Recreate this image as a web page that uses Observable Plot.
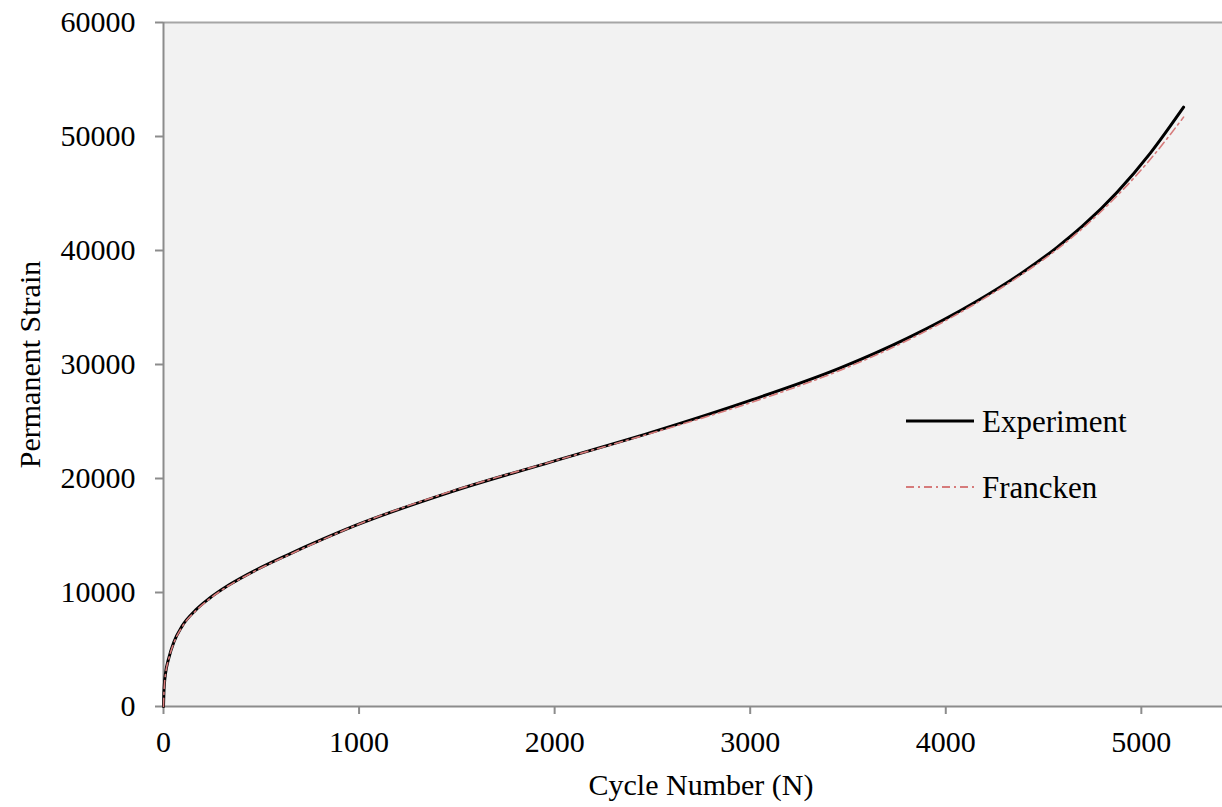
<!DOCTYPE html>
<html>
<head>
<meta charset="utf-8">
<script src="https://cdn.jsdelivr.net/npm/d3@7"></script>
<script src="https://cdn.jsdelivr.net/npm/@observablehq/plot@0.6"></script>
<style>
  body { margin: 0; background: #fff; }
  #wrap { position: relative; width: 1222px; height: 807px; font-family: "Liberation Serif", serif; }
  #legend { position: absolute; left: 0; top: 0; pointer-events: none; }
</style>
</head>
<body>
<div id="wrap"></div>
<script>
// ---- data ----
const expCycles = [0, 2, 5, 10, 27, 53, 95, 164, 232, 334, 470, 641, 811, 982, 1467, 1979, 2490, 3001, 3461, 3802, 4143, 4398, 4569, 4700, 4876, 5046, 5216];
const expStrain = [0, 1200, 2100, 2870, 4250, 5650, 7050, 8450, 9450, 10650, 11950, 13350, 14650, 15880, 18810, 21440, 24020, 26850, 29700, 32290, 35390, 38140, 40280, 42150, 45110, 48540, 52570];

const frCycles = [0, 2, 5, 10, 27, 53, 95, 164, 232, 334, 470, 641, 811, 982, 1467, 1979, 2490, 3001, 3461, 3802, 4143, 4398, 4569, 4700, 4876, 5046, 5216];
const frStrain = [0, 1100, 2000, 2800, 4180, 5580, 6980, 8380, 9400, 10600, 11900, 13300, 14620, 15880, 18850, 21450, 23950, 26650, 29500, 32100, 35250, 38000, 40100, 41950, 44800, 48000, 51700];

const seriesNames = ["Experiment", "Francken"];
const xTicks = [0, 1000, 2000, 3000, 4000, 5000];
const yTicks = [0, 10000, 20000, 30000, 40000, 50000, 60000];
const xLabel = "Cycle Number (N)";
const yLabel = "Permanent Strain";

// ---- build tables ----
const expData = expCycles.map((n, i) => ({n, v: expStrain[i]}));
const frData = frCycles.map((n, i) => ({n, v: frStrain[i]}));

const FONT = "Liberation Serif";
const FS = 30;
const AXIS = "#8c8c8c";
const RED = "#d67b7b";

const chart = Plot.plot({
  width: 1222,
  height: 807,
  marginLeft: 163,
  marginRight: 0,
  marginTop: 22,
  marginBottom: 101,
  style: {fontFamily: FONT, fontSize: FS + "px", color: "#000", background: "#fff", overflow: "visible"},
  x: {domain: [0, 5415]},
  y: {domain: [0, 60000]},
  marks: [
    Plot.frame({fill: "#f2f2f2", stroke: null}),
    Plot.ruleY([60000], {stroke: "#a6a6a6", strokeWidth: 2}),
    Plot.axisY({ticks: yTicks, tickSize: 8, tickPadding: 20, stroke: AXIS, strokeWidth: 2, strokeOpacity: 1,
      tickFormat: d => String(d), label: null, fontSize: FS, fill: "#000"}),
    Plot.axisX({ticks: xTicks, tickSize: 8, tickPadding: 16, stroke: AXIS, strokeWidth: 2, strokeOpacity: 1,
      tickFormat: d => String(d), label: null, fontSize: FS, fill: "#000"}),
    Plot.ruleX([0], {stroke: AXIS, strokeWidth: 2}),
    Plot.ruleY([0], {stroke: AXIS, strokeWidth: 2}),
    Plot.line(expData, {x: "n", y: "v", stroke: "#000", strokeWidth: 3, curve: "monotone-x"}),
    Plot.line(frData, {x: "n", y: "v", stroke: RED, strokeWidth: 1.6, strokeDasharray: "8,4,2,4", curve: "monotone-x"}),
    Plot.text([yLabel], {frameAnchor: "left", dx: -133, rotate: -90, textAnchor: "middle", lineAnchor: "middle", fontSize: FS, fill: "#000"}),
    Plot.text([xLabel], {frameAnchor: "bottom", dx: 8, dy: 79, textAnchor: "middle", lineAnchor: "middle", fontSize: FS, fill: "#000"})
  ]
});

const wrap = document.getElementById("wrap");
wrap.appendChild(chart);

// ---- legend (inside plot area) ----
const leg = d3.select(wrap).append("svg")
  .attr("id", "legend").attr("width", 1222).attr("height", 807);
const legItems = [
  {name: seriesNames[0], y: 421, stroke: "#000", width: 3, dash: null},
  {name: seriesNames[1], y: 487, stroke: RED, width: 2, dash: "8,4,2,4"}
];
legItems.forEach(it => {
  leg.append("line").attr("x1", 906).attr("x2", 974).attr("y1", it.y).attr("y2", it.y)
    .attr("stroke", it.stroke).attr("stroke-width", it.width).attr("stroke-dasharray", it.dash);
  leg.append("text").attr("x", 982).attr("y", it.y).attr("dy", "0.34em")
    .attr("font-family", FONT).attr("font-size", 31).attr("fill", "#000").text(it.name);
});
</script>
</body>
</html>
